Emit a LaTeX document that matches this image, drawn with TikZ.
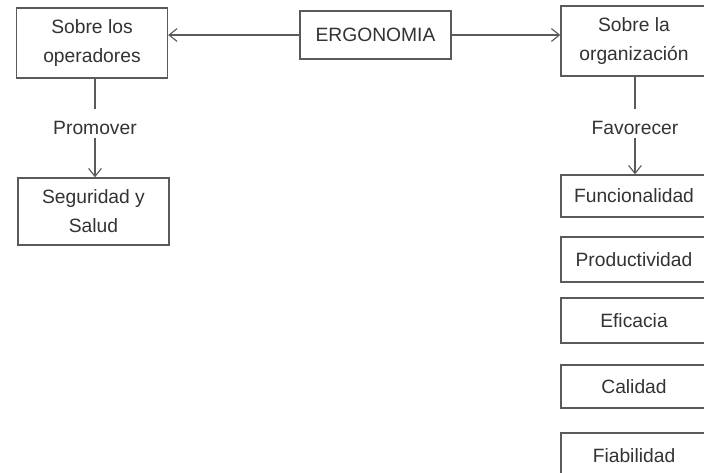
\documentclass[tikz,border=0pt]{standalone}
\usepackage{fontspec}
\setmainfont{Liberation Sans}
\usetikzlibrary{positioning, arrows.meta}
\definecolor{linegray}{HTML}{5A5A5A}
\definecolor{textgray}{HTML}{333333}
\tikzset{
  caja/.style={draw=linegray, line width=0.9pt, fill=white, text=textgray,
    align=center, inner sep=0pt, minimum width=3.775cm,
    font=\fontsize{13.7}{20.5}\selectfont},
  cajader/.style={caja, minimum width=3.65cm},
  verbo/.style={text=textgray, inner sep=0pt, font=\fontsize{13.7}{16}\selectfont},
  linea/.style={draw=linegray, line width=0.8pt},
  flecha/.style={linea, -{Straight Barb[length=2mm,width=3.2mm]}}}

\begin{document}
\begin{tikzpicture}[x=0.025cm, y=-0.025cm]
\clip (0,0) rectangle (704,473);
\fill[white] (0,0) rectangle (704,473);
% centro
\node[caja, minimum height=1.2cm] (ergo) at (375.5,35) {ERGONOMIA};
% izquierda
\node[caja, minimum height=1.75cm] (oper) at (92,43) {Sobre los\\operadores};
\node[verbo] (prom) at (95,128) {Promover};
\node[caja, minimum height=1.675cm] (segur) at (93.5,211.5) {Seguridad y\\Salud};
% derecha
\node[cajader, minimum height=1.75cm] (org) at (634,41) {Sobre la\\organización};
\node[verbo] (favo) at (635,128) {Favorecer};
\node[cajader, minimum height=1.05cm] (func) at (634,196) {Funcionalidad};
\node[cajader, minimum height=1.125cm] (prod) at (634,259.5) {Productividad};
\node[cajader, minimum height=1.125cm] (efic) at (634,320.5) {Eficacia};
\node[cajader, minimum height=1.075cm] (cali) at (634,386.5) {Calidad};
\node[cajader, minimum height=1.125cm] (fiab) at (634,455.5) {Fiabilidad};

\draw[flecha] (ergo.west) -- (ergo.west -| oper.east);
\draw[flecha] (ergo.east) -- (ergo.east -| org.west);
\draw[linea] (prom.north |- oper.south) -- ([yshift=8.5pt]prom.north);
\draw[flecha] ([yshift=-2pt]prom.south) -- (prom.south |- segur.north);
\draw[linea] (favo.north |- org.south) -- ([yshift=8.5pt]favo.north);
\draw[flecha] ([yshift=-2pt]favo.south) -- (favo.south |- func.north);
\end{tikzpicture}
\end{document}
